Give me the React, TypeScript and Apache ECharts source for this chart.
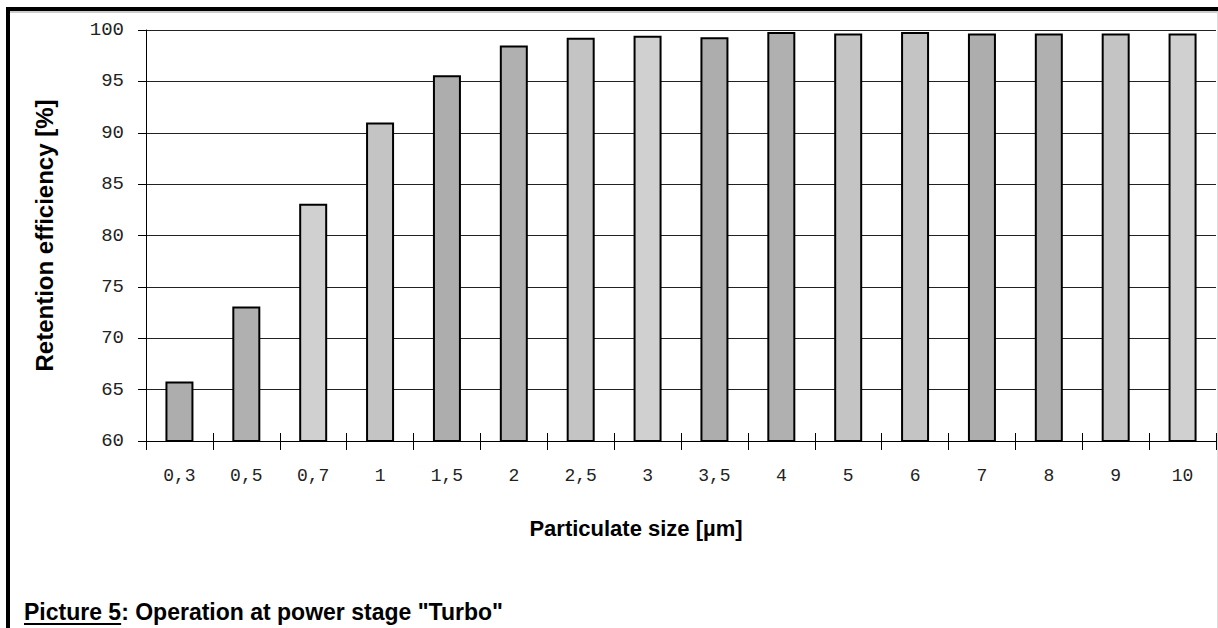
import React, { useEffect, useRef } from "react";
import * as echarts from "echarts";

const categories = ["0,3", "0,5", "0,7", "1", "1,5", "2", "2,5", "3", "3,5", "4", "5", "6", "7", "8", "9", "10"];
const efficiency = [65.8, 73.1, 83.1, 91.0, 95.6, 98.5, 99.25, 99.45, 99.3, 99.8, 99.65, 99.8, 99.65, 99.65, 99.65, 99.65];
const yTicks = { min: 60, max: 100, interval: 5 };
const barShades = ["#adadad", "#b0b0b0", "#d0d0d0", "#c4c4c4", "#adadad", "#b0b0b0", "#c4c4c4", "#d0d0d0", "#adadad", "#b0b0b0", "#c4c4c4", "#c4c4c4", "#adadad", "#b0b0b0", "#c4c4c4", "#d0d0d0"];

const yName = "Retention efficiency [%]";
const xName = "Particulate size [µm]";
const captionA = "Picture 5";
const captionB = ": Operation at power stage \"Turbo\"";

const SANS = "'Liberation Sans', Arial, sans-serif";
const MONO = "'Liberation Mono', 'Courier New', monospace";

function measure(text: string, font: string): number {
  const c = document.createElement("canvas").getContext("2d");
  if (!c) return text.length * 12;
  c.font = font;
  return c.measureText(text).width;
}

export default function App() {
  const ref = useRef<HTMLDivElement>(null);
  useEffect(() => {
    if (!ref.current) return;
    const chart = echarts.init(ref.current, null, { renderer: "svg" });
    const capFont = `bold 23px ${SANS}`;
    const capX = 24;
    const capY = 612;
    const wA = measure(captionA, capFont);
    chart.setOption({
      animation: false,
      backgroundColor: "#ffffff",
      grid: { left: 146, top: 30, right: 2, bottom: 187, containLabel: false },
      xAxis: [
        {
          type: "category",
          data: categories,
          axisLine: { show: true, lineStyle: { color: "#000", width: 1 } },
          axisTick: { show: true, length: 9, lineStyle: { color: "#000" } },
          axisLabel: { color: "#222", fontFamily: MONO, fontSize: 18, margin: 26 },
        },
        {
          type: "category",
          data: categories,
          position: "bottom",
          axisLine: { show: false },
          axisTick: { show: true, inside: true, length: 8, lineStyle: { color: "#000" } },
          axisLabel: { show: false },
        },
      ],
      yAxis: {
        type: "value",
        min: yTicks.min,
        max: yTicks.max,
        interval: yTicks.interval,
        axisLine: { show: true, lineStyle: { color: "#000", width: 1 } },
        axisTick: { show: true, length: 8, lineStyle: { color: "#000" } },
        axisLabel: { color: "#222", fontFamily: MONO, fontSize: 19, margin: 22 },
        splitLine: { show: true, lineStyle: { color: "#222", width: 1 } },
        name: yName,
        nameLocation: "middle",
        nameRotate: 90,
        nameGap: 90,
        nameTextStyle: { fontFamily: SANS, fontWeight: "bold", fontSize: 24, color: "#000" },
      },
      series: [
        {
          type: "bar",
          xAxisIndex: 0,
          data: efficiency.map((v, i) => ({ value: v, itemStyle: { color: barShades[i] } })),
          barWidth: 28,
          itemStyle: { borderColor: "#000", borderWidth: 2 },
        },
      ],
      graphic: [
        { type: "line", shape: { x1: 6, y1: 9, x2: 1218, y2: 9 }, style: { stroke: "#000", lineWidth: 4 } },
        { type: "line", shape: { x1: 6, y1: 12, x2: 1218, y2: 12 }, style: { stroke: "#999", lineWidth: 1 } },
        { type: "line", shape: { x1: 8, y1: 7, x2: 8, y2: 628 }, style: { stroke: "#000", lineWidth: 4 } },
        { type: "line", shape: { x1: 1217.5, y1: 12, x2: 1217.5, y2: 628 }, style: { stroke: "#ddd", lineWidth: 1 } },
        {
          type: "text",
          x: 636,
          y: 528,
          style: { text: xName, font: `bold 22px ${SANS}`, fill: "#000", align: "center", verticalAlign: "middle" },
        },
        {
          type: "text",
          x: capX,
          y: capY,
          style: { text: captionA, font: capFont, fill: "#000", align: "left", verticalAlign: "middle" },
        },
        {
          type: "line",
          shape: { x1: capX, y1: capY + 12, x2: capX + wA, y2: capY + 12 },
          style: { stroke: "#000", lineWidth: 2 },
        },
        {
          type: "text",
          x: capX + wA,
          y: capY,
          style: { text: captionB, font: capFont, fill: "#000", align: "left", verticalAlign: "middle" },
        },
      ],
    });
    return () => chart.dispose();
  }, []);
  return <div ref={ref} style={{ width: 1218, height: 628, position: "absolute", left: 0, top: 0 }} />;
}
